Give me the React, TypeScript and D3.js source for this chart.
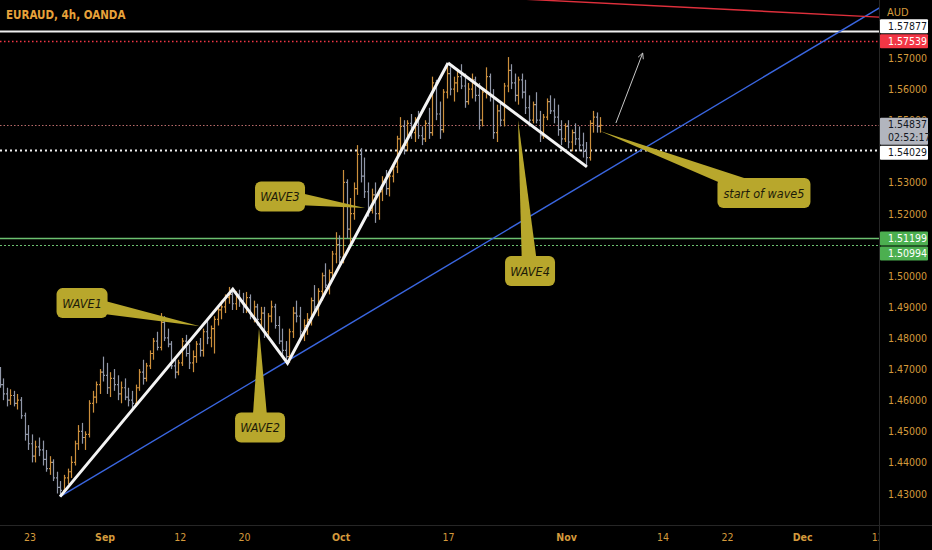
import React from "react";
import * as d3 from "d3";

const W = 932;
const H = 550;
const PLOT_R = 879;
const PLOT_B = 525;
const NARROW = "'Liberation Sans Narrow', 'DejaVu Sans Condensed', 'Liberation Sans', sans-serif";

// ---------- OHLC bars (3 bars per trading day, day 0 = Aug 23) ----------
const augStartDay = -3;
const augBars = [
  [1.4680,1.4707,1.4640,1.4650],[1.4650,1.4670,1.4600,1.4620],[1.4620,1.4640,1.4580,1.4600],
  [1.4600,1.4635,1.4585,1.4615],[1.4615,1.4630,1.4580,1.4590],[1.4590,1.4620,1.4570,1.4600],
  [1.4600,1.4610,1.4540,1.4550],[1.4550,1.4560,1.4470,1.4490],[1.4490,1.4520,1.4440,1.4460],
  [1.4460,1.4490,1.4400,1.4420],[1.4420,1.4470,1.4400,1.4450],[1.4450,1.4480,1.4420,1.4440],
  [1.4440,1.4470,1.4390,1.4410],[1.4410,1.4440,1.4370,1.4380],[1.4380,1.4420,1.4360,1.4400],
  [1.4400,1.4410,1.4340,1.4350],[1.4350,1.4370,1.4300,1.4320],[1.4320,1.4340,1.4290,1.4310],
  [1.4310,1.4360,1.4300,1.4350],[1.4350,1.4380,1.4330,1.4370],[1.4370,1.4420,1.4350,1.4400],
  [1.4400,1.4470,1.4390,1.4460],[1.4460,1.4520,1.4440,1.4500],[1.4500,1.4527,1.4460,1.4480],
  [1.4480,1.4500,1.4440,1.4490],[1.4490,1.4600,1.4480,1.4590],[1.4590,1.4630,1.4560,1.4610],
  [1.4610,1.4660,1.4590,1.4650],[1.4650,1.4700,1.4620,1.4690],[1.4690,1.4740,1.4660,1.4680],
];
const sepStartDay = 7;
const sepBars = [
  [1.4680,1.4720,1.4620,1.4640],[1.4640,1.4690,1.4610,1.4670],[1.4670,1.4700,1.4630,1.4650],
  [1.4650,1.4680,1.4600,1.4620],[1.4620,1.4660,1.4590,1.4640],[1.4640,1.4670,1.4600,1.4610],
  [1.4610,1.4640,1.4580,1.4600],[1.4600,1.4630,1.4570,1.4590],[1.4590,1.4650,1.4580,1.4640],
  [1.4640,1.4700,1.4630,1.4690],[1.4690,1.4730,1.4650,1.4670],[1.4670,1.4720,1.4660,1.4710],
  [1.4710,1.4760,1.4700,1.4750],[1.4750,1.4800,1.4730,1.4790],[1.4790,1.4820,1.4760,1.4770],
  [1.4770,1.4880,1.4760,1.4850],[1.4850,1.4870,1.4790,1.4800],[1.4800,1.4830,1.4770,1.4780],
  [1.4780,1.4790,1.4700,1.4710],[1.4710,1.4740,1.4670,1.4690],[1.4690,1.4730,1.4680,1.4720],
  [1.4720,1.4800,1.4710,1.4790],[1.4790,1.4810,1.4740,1.4750],[1.4750,1.4780,1.4700,1.4720],
  [1.4720,1.4760,1.4690,1.4740],[1.4740,1.4790,1.4720,1.4780],[1.4780,1.4800,1.4740,1.4760],
  [1.4760,1.4830,1.4740,1.4820],[1.4820,1.4860,1.4780,1.4800],[1.4800,1.4840,1.4770,1.4830],
  [1.4830,1.4870,1.4750,1.4860],[1.4860,1.4900,1.4840,1.4890],[1.4890,1.4920,1.4860,1.4900],
  [1.4900,1.4940,1.4880,1.4930],[1.4930,1.4964,1.4910,1.4940],[1.4940,1.4960,1.4890,1.4910],
  [1.4910,1.4950,1.4890,1.4940],[1.4940,1.4955,1.4900,1.4920],[1.4920,1.4945,1.4880,1.4900],
  [1.4900,1.4948,1.4880,1.4930],[1.4930,1.4940,1.4860,1.4870],[1.4870,1.4920,1.4850,1.4900],
  [1.4900,1.4910,1.4840,1.4860],[1.4860,1.4900,1.4830,1.4880],[1.4880,1.4900,1.4800,1.4820],
  [1.4820,1.4880,1.4800,1.4870],[1.4870,1.4920,1.4850,1.4900],[1.4900,1.4910,1.4830,1.4840],
  [1.4840,1.4870,1.4780,1.4790],[1.4790,1.4830,1.4740,1.4760],[1.4760,1.4790,1.4720,1.4740],
  [1.4740,1.4830,1.4720,1.4820],[1.4820,1.4900,1.4800,1.4880],[1.4880,1.4920,1.4850,1.4870],
  [1.4870,1.4900,1.4800,1.4820],[1.4820,1.4860,1.4790,1.4840],[1.4840,1.4880,1.4810,1.4860],
  [1.4860,1.4930,1.4840,1.4920],[1.4920,1.4970,1.4880,1.4900],[1.4900,1.4960,1.4870,1.4950],
  [1.4950,1.5010,1.4920,1.5000],[1.5000,1.5040,1.4960,1.4970],[1.4970,1.5020,1.4940,1.5010],
  [1.5010,1.5080,1.4990,1.5070],[1.5070,1.5140,1.5040,1.5100],[1.5100,1.5130,1.5040,1.5060],
];
const octStartDay = 29;
const octBars = [
  [1.5060,1.5340,1.5040,1.5300],[1.5300,1.5310,1.5120,1.5150],[1.5150,1.5250,1.5100,1.5200],
  [1.5200,1.5300,1.5180,1.5280],[1.5280,1.5420,1.5260,1.5390],[1.5390,1.5410,1.5300,1.5320],
  [1.5320,1.5380,1.5250,1.5270],[1.5270,1.5300,1.5190,1.5210],[1.5210,1.5280,1.5200,1.5260],
  [1.5260,1.5300,1.5170,1.5200],[1.5200,1.5280,1.5180,1.5270],[1.5270,1.5320,1.5240,1.5300],
  [1.5300,1.5340,1.5260,1.5280],[1.5280,1.5330,1.5255,1.5320],[1.5320,1.5360,1.5300,1.5350],
  [1.5350,1.5450,1.5330,1.5440],[1.5440,1.5510,1.5400,1.5480],[1.5480,1.5500,1.5390,1.5420],
  [1.5420,1.5500,1.5400,1.5490],[1.5490,1.5520,1.5440,1.5460],[1.5460,1.5510,1.5430,1.5500],
  [1.5500,1.5530,1.5440,1.5450],[1.5450,1.5480,1.5420,1.5440],[1.5440,1.5500,1.5430,1.5490],
  [1.5490,1.5540,1.5440,1.5460],[1.5460,1.5640,1.5450,1.5620],[1.5620,1.5630,1.5500,1.5520],
  [1.5520,1.5560,1.5440,1.5470],[1.5470,1.5600,1.5460,1.5590],[1.5590,1.5684,1.5570,1.5650],
  [1.5650,1.5670,1.5580,1.5600],[1.5600,1.5640,1.5560,1.5620],[1.5620,1.5660,1.5590,1.5640],
  [1.5640,1.5680,1.5600,1.5610],[1.5610,1.5650,1.5540,1.5560],[1.5560,1.5620,1.5550,1.5600],
  [1.5600,1.5650,1.5570,1.5630],[1.5630,1.5640,1.5560,1.5580],[1.5580,1.5620,1.5470,1.5500],
  [1.5500,1.5600,1.5480,1.5590],[1.5590,1.5670,1.5570,1.5640],[1.5640,1.5650,1.5560,1.5580],
  [1.5580,1.5600,1.5440,1.5460],[1.5460,1.5550,1.5430,1.5530],[1.5530,1.5560,1.5480,1.5500],
  [1.5500,1.5620,1.5480,1.5610],[1.5610,1.5703,1.5590,1.5660],[1.5660,1.5680,1.5600,1.5620],
  [1.5620,1.5650,1.5560,1.5580],[1.5580,1.5640,1.5550,1.5630],[1.5630,1.5650,1.5570,1.5590],
  [1.5590,1.5630,1.5520,1.5540],[1.5540,1.5580,1.5480,1.5500],[1.5500,1.5560,1.5490,1.5550],
  [1.5550,1.5590,1.5490,1.5500],[1.5500,1.5530,1.5430,1.5450],[1.5450,1.5520,1.5440,1.5510],
  [1.5510,1.5570,1.5500,1.5560],[1.5560,1.5580,1.5520,1.5530],[1.5530,1.5570,1.5490,1.5510],
  [1.5510,1.5550,1.5450,1.5470],[1.5470,1.5500,1.5420,1.5440],[1.5440,1.5490,1.5430,1.5480],
];
const novStartDay = 50;
const novBars = [
  [1.5480,1.5500,1.5410,1.5430],[1.5430,1.5470,1.5400,1.5460],[1.5460,1.5490,1.5420,1.5440],
  [1.5440,1.5480,1.5400,1.5420],[1.5420,1.5460,1.5380,1.5400],[1.5400,1.5430,1.5350,1.5380],
  [1.5380,1.5500,1.5370,1.5490],[1.5490,1.5530,1.5460,1.5510],[1.5510,1.5525,1.5460,1.5480],
  [1.5480,1.5510,1.5460,1.54837],
];

// ---------- axes ----------
const timeTickDays = [0, 7, 14, 20, 29, 39, 50, 59, 65, 72, 79];
const timeTickLabels = ["23", "Sep", "12", "20", "Oct", "17", "Nov", "14", "22", "Dec", "12"];
const monthLabels = ["Sep", "Oct", "Nov", "Dec"];
const priceTicks = [1.43, 1.44, 1.45, 1.46, 1.47, 1.48, 1.49, 1.5, 1.51, 1.52, 1.53, 1.54, 1.55, 1.56, 1.57];

// ---------- drawings ----------
const waveDays = [2.8, 18.9, 24.0, 38.96];
const wavePrices = [1.4290, 1.4957, 1.4719, 1.5684];
const wave4Days = [38.96, 51.9];
const wave4Prices = [1.5684, 1.5350];
const blueTrendDays = [2.8, 79.4];
const blueTrendPrices = [1.4290, 1.5866];
const redTrendDays = [45.5, 79.4];
const redTrendPrices = [1.5890, 1.5831];
const arrowDays = [54.6, 57.1];
const arrowPrices = [1.5491, 1.5716];

const levelPrices = [1.57877, 1.57539, 1.54837, 1.54029, 1.51199, 1.50994];
const levelLineColors = ["#f0f0f0", "#f23645", "#b86a6a", "#f0f0f0", "#6cc070", "#6cc070"];
const levelDash = ["", "1.5,2.5", "1.5,2", "2,3", "", "2,2"];
const levelWidth = [2, 1.3, 1.2, 2, 1.3, 1];
const levelBoxFill = ["#ffffff", "#f23645", "#b2b5be", "#ffffff", "#4caf50", "#4caf50"];
const levelBoxText = ["#131722", "#ffffff", "#131722", "#131722", "#ffffff", "#ffffff"];
const levelFixed = [false, true, true, false, true, false];

const calloutTexts = ["WAVE1", "WAVE2", "WAVE3", "WAVE4", "start of wave5"];
const calloutTipDays = [15.84, 21.34, 31.22, 45.48, 53.12];
const calloutTipPrices = [1.4838, 1.4832, 1.5218, 1.5501, 1.5465];
const calloutBoxDays = [4.85, 21.44, 23.3, 46.6, 68.4];
const calloutBoxPrices = [1.4912, 1.4512, 1.5255, 1.5015, 1.5266];
const calloutBoxWidths = [51, 50, 50, 50, 93];

export default function App() {
  const x = d3.scaleLinear().domain([0, 79]).range([30, 877.7]);
  const y = d3.scaleLinear().domain([1.43, 1.57]).range([493.5, 58]);

  const allBars: { day: number; o: number; h: number; l: number; c: number }[] = [];
  const addBars = (start: number, arr: number[][]) => {
    arr.forEach((b, j) => {
      const day = start + Math.floor(j / 3) + ((j % 3) + 0.5) / 3;
      allBars.push({ day, o: b[0], h: b[1], l: b[2], c: b[3] });
    });
  };
  addBars(augStartDay, augBars);
  addBars(sepStartDay, sepBars);
  addBars(octStartDay, octBars);
  addBars(novStartDay, novBars);

  const line = d3
    .line<[number, number]>()
    .x((d) => x(d[0]))
    .y((d) => y(d[1]));
  const zipPts = (ds: number[], ps: number[]) => ds.map((d, i) => [d, ps[i]] as [number, number]);

  // axis price boxes with collision nudging
  const boxes = levelPrices.map((p, i) => {
    const h = i === 2 ? 27 : 14;
    const cy = y(p);
    const top = i === 2 ? cy - 7.5 : cy - h / 2;
    return { i, p, h, top };
  });
  const fixed = boxes.filter((b) => levelFixed[b.i]);
  boxes.forEach((b) => {
    if (levelFixed[b.i]) return;
    fixed.forEach((f) => {
      const overlap = Math.min(b.top + b.h, f.top + f.h) - Math.max(b.top, f.top);
      if (overlap > -1) {
        if (b.top < f.top) b.top = f.top - b.h - 1;
        else b.top = f.top + f.h + 1;
      }
    });
  });

  // tick labels: hide those covered by a price box, clip partly covered ones
  const tickInfo = priceTicks.map((p) => {
    const ty = y(p);
    const cover = boxes.find((b) => ty >= b.top - 1 && ty <= b.top + b.h + 1);
    if (!cover) return { p, ty, show: true, clipTop: null as number | null };
    if (ty - 4 < cover.top - 1) return { p, ty, show: true, clipTop: cover.top };
    return { p, ty, show: false, clipTop: null };
  });

  const axisColor = "#d49a3c";

  return (
    <div style={{ width: W, height: H }}>
      <style>{`body{margin:0;background:#000;}`}</style>
      <svg width={W} height={H} style={{ display: "block", background: "#000" }}>
        <defs>
          <clipPath id="plot">
            <rect x={0} y={0} width={PLOT_R} height={PLOT_B} />
          </clipPath>
          <clipPath id="xaxis">
            <rect x={0} y={PLOT_B} width={PLOT_R} height={H - PLOT_B} />
          </clipPath>
          {tickInfo.map((t, i) =>
            t.clipTop !== null ? (
              <clipPath id={"tclip" + i} key={"tc" + i}>
                <rect x={880} y={0} width={52} height={t.clipTop} />
              </clipPath>
            ) : null
          )}
          <marker id="arrowhead" viewBox="0 0 10 10" refX="9" refY="5" markerWidth="7" markerHeight="7" orient="auto">
            <path d="M1,1 L9,5 L1,9" fill="none" stroke="#c8c8c8" strokeWidth="1.2" />
          </marker>
        </defs>
        <rect x={0} y={0} width={W} height={H} fill="#000" />

        <g clipPath="url(#plot)">
          {/* horizontal levels */}
          {levelPrices.map((p, i) => (
            <line
              key={"lv" + i}
              x1={0}
              x2={PLOT_R}
              y1={Math.round(y(p)) + 0.5}
              y2={Math.round(y(p)) + 0.5}
              stroke={levelLineColors[i]}
              strokeWidth={levelWidth[i]}
              strokeDasharray={levelDash[i] || undefined}
            />
          ))}

          {/* bars */}
          {allBars.map((b, i) => {
            const cx = Math.round(x(b.day)) + 0.5;
            const up = b.c >= b.o;
            const col = up ? "#cc8f3c" : "#9197a8";
            return (
              <g key={"b" + i} stroke={col} strokeWidth={1.2}>
                <line x1={cx} x2={cx} y1={y(b.h)} y2={y(b.l)} />
                <line x1={cx - 1.5} x2={cx} y1={y(b.o)} y2={y(b.o)} />
                <line x1={cx} x2={cx + 1.5} y1={y(b.c)} y2={y(b.c)} />
              </g>
            );
          })}

          {/* trend lines */}
          <path d={line(zipPts(blueTrendDays, blueTrendPrices)) || ""} stroke="#3a66e0" strokeWidth={1.4} fill="none" />
          <path d={line(zipPts(redTrendDays, redTrendPrices)) || ""} stroke="#e0303c" strokeWidth={1.4} fill="none" />

          {/* wave lines */}
          <path d={line(zipPts(waveDays, wavePrices)) || ""} stroke="#f4f4f4" strokeWidth={3} fill="none" strokeLinejoin="miter" />
          <path d={line(zipPts(wave4Days, wave4Prices)) || ""} stroke="#f4f4f4" strokeWidth={3} fill="none" />

          {/* arrow */}
          <line
            x1={x(arrowDays[0])}
            y1={y(arrowPrices[0])}
            x2={x(arrowDays[1])}
            y2={y(arrowPrices[1])}
            stroke="#c8c8c8"
            strokeWidth={1}
            markerEnd="url(#arrowhead)"
          />

          {/* callouts */}
          {calloutTexts.map((t, i) => {
            const tx = x(calloutTipDays[i]);
            const ty = y(calloutTipPrices[i]);
            const bx = x(calloutBoxDays[i]);
            const by = y(calloutBoxPrices[i]);
            const w = calloutBoxWidths[i];
            const h = 30;
            const dx = tx - bx;
            const dy = ty - by;
            const len = Math.hypot(dx, dy);
            const nx = -dy / len;
            const ny = dx / len;
            const hw = 8;
            const tri = `M${bx + nx * hw},${by + ny * hw} L${tx},${ty} L${bx - nx * hw},${by - ny * hw} Z`;
            return (
              <g key={"c" + i}>
                <path d={tri} fill="#b8a72c" />
                <rect x={bx - w / 2} y={by - h / 2} width={w} height={h} rx={6} fill="#b8a72c" />
                <text
                  x={bx}
                  y={by + 4.5}
                  textAnchor="middle"
                  fontFamily={NARROW}
                  fontStyle="italic"
                  fontSize={12.5}
                  fill="#1c1a08"
                >
                  {t}
                </text>
              </g>
            );
          })}
        </g>

        {/* title */}
        <text x={6} y={19} fontFamily={NARROW} fontWeight="bold" fontSize={11.5} fill="#e8a23a">
          EURAUD, 4h, OANDA
        </text>

        {/* axis frame */}
        <line x1={PLOT_R + 0.5} x2={PLOT_R + 0.5} y1={0} y2={H} stroke="#262626" />
        <line x1={0} x2={W} y1={PLOT_B + 0.5} y2={PLOT_B + 0.5} stroke="#262626" />

        {/* price axis */}
        <text x={887} y={16} fontFamily={NARROW} fontSize={11} fill={axisColor}>
          AUD
        </text>
        {tickInfo.map((t, i) =>
          t.show ? (
            <text
              key={"pt" + i}
              x={888}
              y={t.ty + 4}
              fontFamily={NARROW}
              fontSize={10.5}
              fill={axisColor}
              clipPath={t.clipTop !== null ? `url(#tclip${i})` : undefined}
            >
              {d3.format(".5f")(t.p)}
            </text>
          ) : null
        )}

        {/* price boxes */}
        {boxes.map((b) => (
          <g key={"bx" + b.i}>
            <rect x={880} y={b.top} width={48} height={b.h} fill={levelBoxFill[b.i]} rx={1} />
            <text x={888} y={b.top + 10.5} fontFamily={NARROW} fontSize={10.5} fill={levelBoxText[b.i]}>
              {d3.format(".5f")(b.p)}
            </text>
            {b.i === 2 && (
              <text x={888} y={b.top + 23} fontFamily={NARROW} fontSize={10.5} fill={levelBoxText[b.i]}>
                02:52:17
              </text>
            )}
          </g>
        ))}

        {/* time axis */}
        <g clipPath="url(#xaxis)">
          {timeTickDays.map((d, i) => (
            <text
              key={"tt" + i}
              x={x(d)}
              y={541}
              textAnchor="middle"
              fontFamily={NARROW}
              fontSize={10.5}
              fontWeight={monthLabels.includes(timeTickLabels[i]) ? "bold" : "normal"}
              fill={axisColor}
            >
              {timeTickLabels[i]}
            </text>
          ))}
        </g>
      </svg>
    </div>
  );
}
